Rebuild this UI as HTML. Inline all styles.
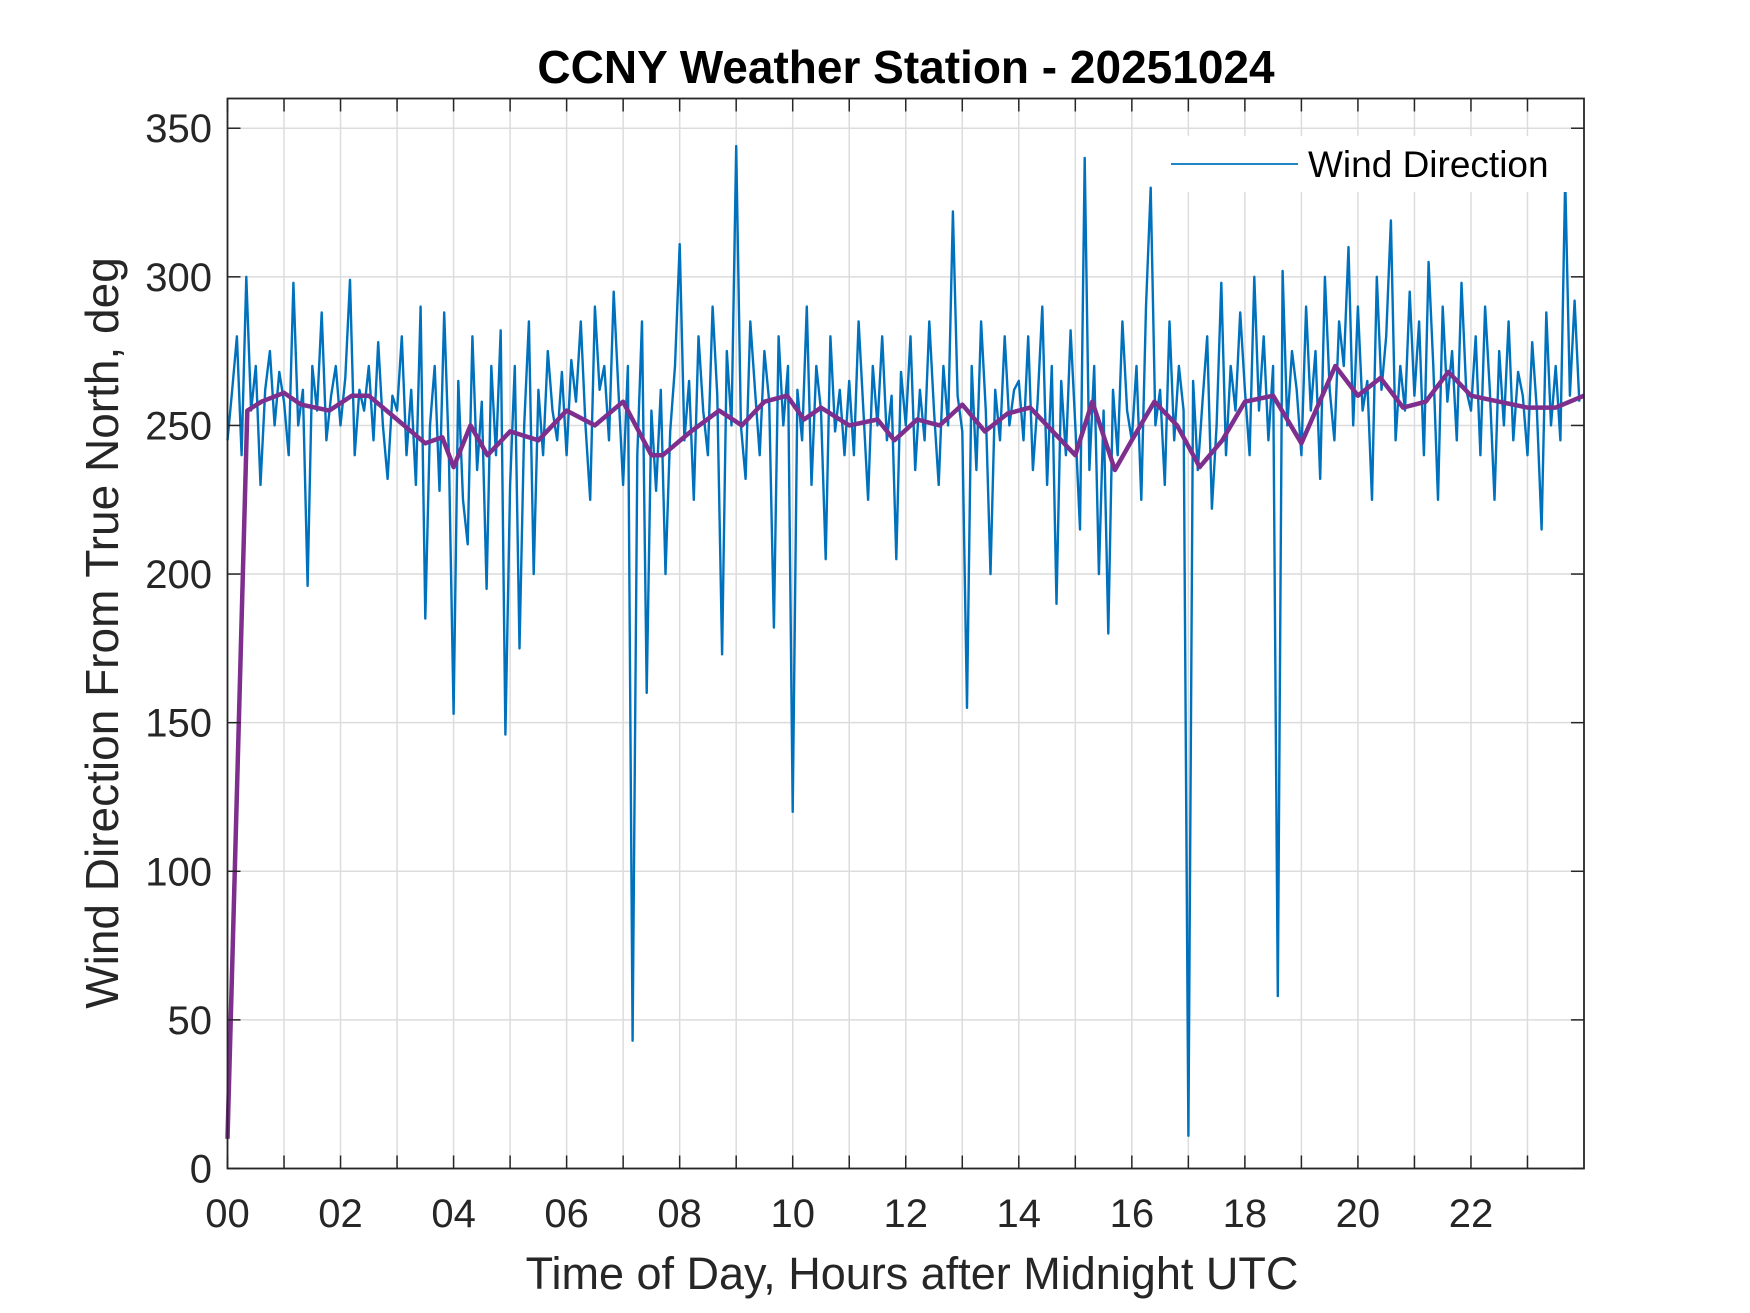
<!DOCTYPE html>
<html><head><meta charset="utf-8"><style>
html,body{margin:0;padding:0;background:#fff;}
svg{display:block;font-family:"Liberation Sans",Arial,sans-serif;}
</style></head><body>
<svg id="chart" width="1750" height="1313" viewBox="0 0 1750 1313" xmlns="http://www.w3.org/2000/svg">
<rect width="1750" height="1313" fill="#fff"/>
<g id="grid"></g>
<g id="series"></g>
<g id="axes"></g>
<text x="906" y="83" text-anchor="middle" font-size="46" font-weight="bold" fill="#000">CCNY Weather Station - 20251024</text>
<text x="912" y="1289" text-anchor="middle" font-size="45" fill="#262626">Time of Day, Hours after Midnight UTC</text>
<text transform="translate(118,633) rotate(-90)" text-anchor="middle" font-size="46" fill="#262626">Wind Direction From True North, deg</text>
<g>
<rect x="1160" y="136" width="410" height="56" fill="#fff"/>
<line x1="1171" y1="164" x2="1298" y2="164" stroke="#0072BD" stroke-width="1.8"/>
<text x="1308" y="177" font-size="37" fill="#000">Wind Direction</text>
</g>
</svg>
<script>
const xTicks = [0,1,2,3,4,5,6,7,8,9,10,11,12,13,14,15,16,17,18,19,20,21,22,23];
const xTickLabels = ["00","","02","","04","","06","","08","","10","","12","","14","","16","","18","","20","","22",""];
const yTicks = [0,50,100,150,200,250,300,350];
// Raw wind direction, 5-minute samples starting 00:00
const windDir = [
245,262,280,240,300,255,270,230,262,275,250,268,
258,240,298,250,262,196,270,255,288,245,260,270,
250,266,299,240,262,255,270,245,278,250,232,260,
255,280,240,262,230,290,185,250,270,228,288,240,
153,265,225,210,280,235,258,195,270,240,282,146,
230,270,175,250,285,200,262,240,275,255,245,268,
240,272,258,285,250,225,290,262,270,245,295,262,
230,270,43,240,285,160,255,228,262,200,248,270,
311,245,265,225,280,255,240,290,260,173,275,250,
344,250,232,285,262,240,275,258,182,280,250,270,
120,262,245,290,230,270,255,205,280,248,262,240,
265,240,285,255,225,270,250,280,245,260,205,268,
250,280,235,262,245,285,255,230,270,250,322,260,
248,155,270,235,285,255,200,262,245,280,250,262,
265,245,280,235,258,290,230,270,190,265,240,282,
250,215,340,235,270,200,255,180,262,240,285,255,
245,270,225,290,330,250,262,230,285,245,270,255,
11,265,235,258,280,222,250,298,240,270,255,288,
262,240,300,255,280,245,270,58,302,250,275,262,
240,290,255,275,232,300,262,245,285,270,310,250,
290,255,265,225,300,262,280,319,245,270,255,295,
260,285,240,305,270,225,290,258,275,245,298,262,
255,280,240,290,262,225,275,250,285,245,268,260,
240,278,255,215,288,250,270,245,333,260,292,258];
const sampleStepHours = 5/60;
// Smoothed (running mean) series
const smoothTimes = [0,0.35,0.6,1.0,1.3,1.8,2.2,2.5,3.0,3.5,3.8,4.0,4.3,4.6,5.0,5.5,6.0,6.5,7.0,7.5,7.7,8.2,8.7,9.1,9.5,9.9,10.2,10.5,11.0,11.5,11.8,12.2,12.6,13.0,13.4,13.8,14.2,14.5,15.0,15.3,15.7,16.0,16.4,16.8,17.2,17.6,18.0,18.5,19.0,19.6,20.0,20.4,20.8,21.2,21.6,22.0,22.5,23.0,23.5,24.0];
const smoothVals = [10,255,258,261,257,255,260,260,252,244,246,236,250,240,248,245,255,250,258,240,240,248,255,250,258,260,252,256,250,252,245,252,250,257,248,254,256,250,240,258,235,245,258,250,236,245,258,260,244,270,260,266,256,258,268,260,258,256,256,260];

const L=227.5,R=1584,T=98.5,B=1168.5,XMIN=0,XMAX=24,YMIN=0,YMAX=360;
const sx=v=>L+(v-XMIN)/(XMAX-XMIN)*(R-L);
const sy=v=>B-(v-YMIN)/(YMAX-YMIN)*(B-T);
const NS="http://www.w3.org/2000/svg";
function mk(tag,attrs,parent){const e=document.createElementNS(NS,tag);for(const k in attrs)e.setAttribute(k,attrs[k]);parent.appendChild(e);return e;}
const grid=document.getElementById('grid'),series=document.getElementById('series'),axes=document.getElementById('axes');
xTicks.forEach((t,i)=>{
  const g=mk('line',{x1:sx(t),x2:sx(t),y1:T,y2:B,stroke:'#dcdcdc','stroke-width':1.5},grid);
  
  
  const tb=mk('line',{x1:sx(t),x2:sx(t),y1:B,y2:B-13,stroke:'#262626','stroke-width':1.5},axes);
  
  
  const tt=mk('line',{x1:sx(t),x2:sx(t),y1:T,y2:T+13,stroke:'#262626','stroke-width':1.5},axes);
  
  
  if(xTickLabels[i]){
    const lb=mk('text',{x:sx(t),y:1227,'text-anchor':'middle','font-size':40,fill:'#262626'},axes);
    lb.textContent=xTickLabels[i];
    
    
  }
});
yTicks.forEach(v=>{
  const g=mk('line',{x1:L,x2:R,y1:sy(v),y2:sy(v),stroke:'#dcdcdc','stroke-width':1.5},grid);
  
  
  const tl=mk('line',{x1:L,x2:L+13,y1:sy(v),y2:sy(v),stroke:'#262626','stroke-width':1.5},axes);
  
  
  const tr=mk('line',{x1:R,x2:R-13,y1:sy(v),y2:sy(v),stroke:'#262626','stroke-width':1.5},axes);
  
  
  const lb=mk('text',{x:212,y:sy(v)+14,'text-anchor':'end','font-size':40,fill:'#262626'},axes);
  lb.textContent=v;
  
  
});
const box=mk('rect',{x:L,y:T,width:R-L,height:B-T,fill:'none',stroke:'#262626','stroke-width':1.8},axes);


const p1=windDir.map((v,i)=>sx(i*sampleStepHours).toFixed(1)+','+sy(v).toFixed(1)).join(' ');
const raw=mk('polyline',{points:p1,fill:'none',stroke:'#0072BD','stroke-width':2.4,'stroke-linejoin':'round'},series);


const p2=smoothVals.map((v,i)=>sx(smoothTimes[i]).toFixed(1)+','+sy(v).toFixed(1)).join(' ');
const sm=mk('polyline',{points:p2,fill:'none',stroke:'#7E2F8E','stroke-width':4.5,'stroke-linejoin':'round'},series);


</script>
</body></html>
